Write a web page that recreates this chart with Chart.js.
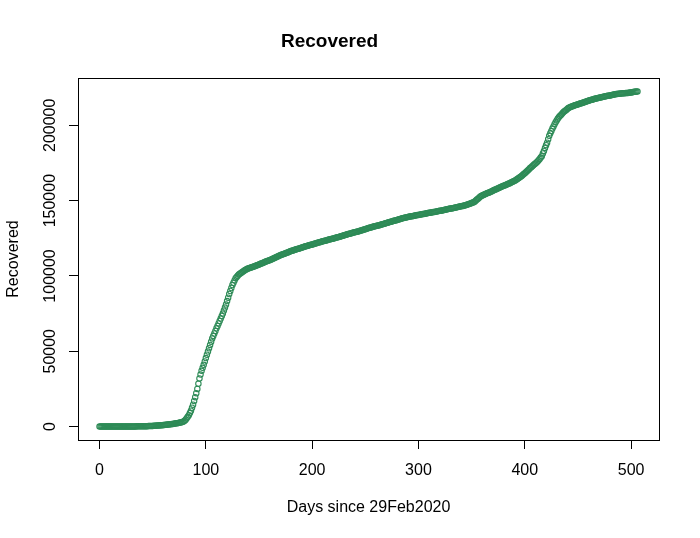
<!DOCTYPE html>
<html lang="en">
<head>
  <meta charset="UTF-8" />
  <title>Recovered</title>
  <script src="https://cdn.jsdelivr.net/npm/chart.js"></script>
  <style>
    html, body { margin: 0; padding: 0; background: #fff; }
    #chart { display: block; }
  </style>
</head>
<body>
  <canvas id="chart" width="700" height="538"></canvas>

  <script>
    // cumulative recovered, one value per day since 29 Feb 2020
    const recovered = [
      0,0,0,0,0,0,0,0,0,0,
      0,5,10,15,20,25,30,35,40,45,
      50,55,60,65,70,75,80,85,90,95,
      100,110,120,130,140,150,160,170,180,190,
      200,220,240,260,280,300,320,340,360,400,
      450,500,550,600,650,700,760,820,880,940,
      1000,1080,1160,1240,1320,1400,1500,1600,1700,1800,
      1900,2020,2140,2260,2380,2500,2650,2800,3000,3400,
      3800,4600,5500,6500,7500,9000,10500,12500,14500,17000,
      19500,22200,25000,28500,32000,34500,37000,39000,41000,43200,
      45500,47700,49800,52000,54200,56400,58500,60200,61800,63500,
      65200,66800,68500,70100,71700,73400,75000,77000,79000,81000,
      83300,85600,88000,90000,92000,94000,95500,97000,98500,99300,
      100200,101000,101500,102000,102500,103000,103500,103900,104300,104700,
      105000,105250,105500,105750,106000,106250,106500,106800,107050,107300,
      107600,107900,108200,108500,108800,109100,109400,109700,110000,110250,
      110500,110800,111100,111450,111750,112050,112400,112700,113050,113350,
      113700,114000,114300,114550,114800,115100,115350,115600,115900,116200,
      116500,116750,116950,117200,117400,117650,117850,118100,118300,118550,
      118800,119000,119250,119500,119700,119900,120100,120300,120500,120700,
      120900,121100,121300,121500,121700,122000,122200,122400,122600,122800,
      123000,123200,123400,123550,123750,123950,124150,124350,124500,124700,
      124900,125100,125300,125500,125700,125900,126100,126300,126500,126750,
      127000,127200,127400,127600,127800,128000,128200,128400,128600,128800,
      129000,129150,129300,129500,129700,129950,130150,130400,130600,130800,
      131000,131250,131500,131750,132000,132200,132400,132600,132800,133000,
      133200,133350,133500,133700,133900,134100,134300,134500,134700,134900,
      135100,135300,135600,135800,136000,136200,136400,136600,136800,137000,
      137200,137400,137600,137800,138100,138250,138400,138600,138800,138950,
      139100,139250,139400,139550,139700,139850,140000,140150,140300,140400,
      140500,140650,140800,140950,141100,141200,141350,141500,141650,141800,
      141900,142000,142150,142300,142400,142500,142650,142800,142900,143050,
      143200,143350,143500,143650,143800,143950,144100,144250,144400,144550,
      144700,144850,145000,145150,145300,145450,145600,145750,145900,146050,
      146200,146350,146500,146700,146900,147100,147350,147600,147850,148100,
      148400,148700,149000,149500,150100,150700,151300,151900,152500,153000,
      153400,153800,154100,154400,154700,155000,155300,155600,155900,156200,
      156600,157000,157300,157600,157900,158200,158500,158800,159200,159500,
      159800,160100,160400,160700,161000,161300,161600,161950,162300,162650,
      163000,163400,163800,164300,164800,165300,165800,166400,167000,167600,
      168200,168800,169500,170200,170900,171600,172200,172900,173500,174100,
      174700,175300,176000,176800,177700,178600,179500,181300,183000,185000,
      186800,188500,190800,193000,194700,196300,197800,199200,200700,202000,
      203200,204300,205300,206100,206900,207700,208500,209100,209700,210200,
      210800,211500,211800,212100,212400,212700,213000,213300,213500,213700,
      213950,214200,214400,214600,214800,215100,215350,215600,215850,216100,
      216350,216600,216800,217000,217200,217400,217600,217800,218000,218200,
      218350,218500,218650,218800,218950,219100,219250,219400,219550,219700,
      219850,220000,220100,220250,220400,220550,220700,220800,220900,221000,
      221100,221150,221200,221250,221300,221400,221450,221500,221600,221700,
      221800,221950,222100,222200,222300,222400,222500
    ];
    // day index for each value
    const days = recovered.map((_, i) => i);

    const xTicks = [0, 100, 200, 300, 400, 500];
    const yTicks = [0, 50000, 100000, 150000, 200000];

    const FONT = "'Liberation Sans', Arial, sans-serif";

    // R-style box round the plot region
    const boxPlugin = {
      id: 'box',
      afterDraw(chart) {
        const { ctx, chartArea: a } = chart;
        ctx.save();
        ctx.strokeStyle = '#000';
        ctx.lineWidth = 1;
        ctx.strokeRect(Math.round(a.left) + 0.5, Math.round(a.top) + 0.5,
          Math.round(a.right - a.left), Math.round(a.bottom - a.top));
        ctx.restore();
      }
    };

    const bgPlugin = {
      id: 'bg',
      beforeDraw(chart) {
        const ctx = chart.ctx;
        ctx.save();
        ctx.fillStyle = '#fff';
        ctx.fillRect(0, 0, chart.width, chart.height);
        ctx.restore();
      }
    };

    new Chart(document.getElementById('chart'), {
      type: 'scatter',
      data: {
        datasets: [{
          data: days.map((d, i) => ({ x: d, y: recovered[i] })),
          pointStyle: 'circle',
          pointRadius: 2.7,
          borderWidth: 1.1,
          borderColor: '#2E8B57',
          backgroundColor: 'rgba(0,0,0,0)',
          showLine: false
        }]
      },
      options: {
        responsive: false,
        animation: false,
        devicePixelRatio: 1,
        layout: { padding: { left: 0, right: 41, top: 0, bottom: 0 } },
        plugins: {
          legend: { display: false },
          tooltip: { enabled: false },
          title: {
            display: true,
            text: 'Recovered',
            color: '#000',
            font: { family: FONT, size: 19, weight: 'bold', lineHeight: 1.2 },
            padding: { top: 30.5, bottom: 24.7 }
          }
        },
        scales: {
          x: {
            type: 'linear',
            min: -20.24,
            max: 526.24,
            afterBuildTicks: s => { s.ticks = xTicks.map(v => ({ value: v })); },
            afterFit: s => { s.height = 98; },
            grid: { display: true, drawOnChartArea: false, drawTicks: true, tickLength: 9, color: '#000', lineWidth: 1 },
            border: { display: false },
            ticks: {
              color: '#000',
              font: { family: FONT, size: 16, lineHeight: 1.2 },
              padding: 12,
              maxRotation: 0,
              autoSkip: false,
              callback: v => String(v)
            },
            title: {
              display: true,
              text: 'Days since 29Feb2020',
              color: '#000',
              font: { family: FONT, size: 16, lineHeight: 1.2 },
              padding: { top: 0, bottom: 20.4 }
            }
          },
          y: {
            type: 'linear',
            min: -8900,
            max: 231400,
            afterBuildTicks: s => { s.ticks = yTicks.map(v => ({ value: v })); },
            afterFit: s => { s.width = 78; },
            grid: { display: true, drawOnChartArea: false, drawTicks: true, tickLength: 9, color: '#000', lineWidth: 1 },
            border: { display: false },
            ticks: {
              color: '#000',
              font: { family: FONT, size: 16, lineHeight: 1.2 },
              minRotation: 90,
              maxRotation: 90,
              crossAlign: 'center',
              padding: -8,
              autoSkip: false,
              callback: v => String(v)
            },
            title: {
              display: true,
              text: 'Recovered',
              color: '#000',
              font: { family: FONT, size: 16, lineHeight: 1.2 },
              padding: { top: 4, bottom: 0 }
            }
          }
        }
      },
      plugins: [bgPlugin, boxPlugin]
    });
  </script>
</body>
</html>
